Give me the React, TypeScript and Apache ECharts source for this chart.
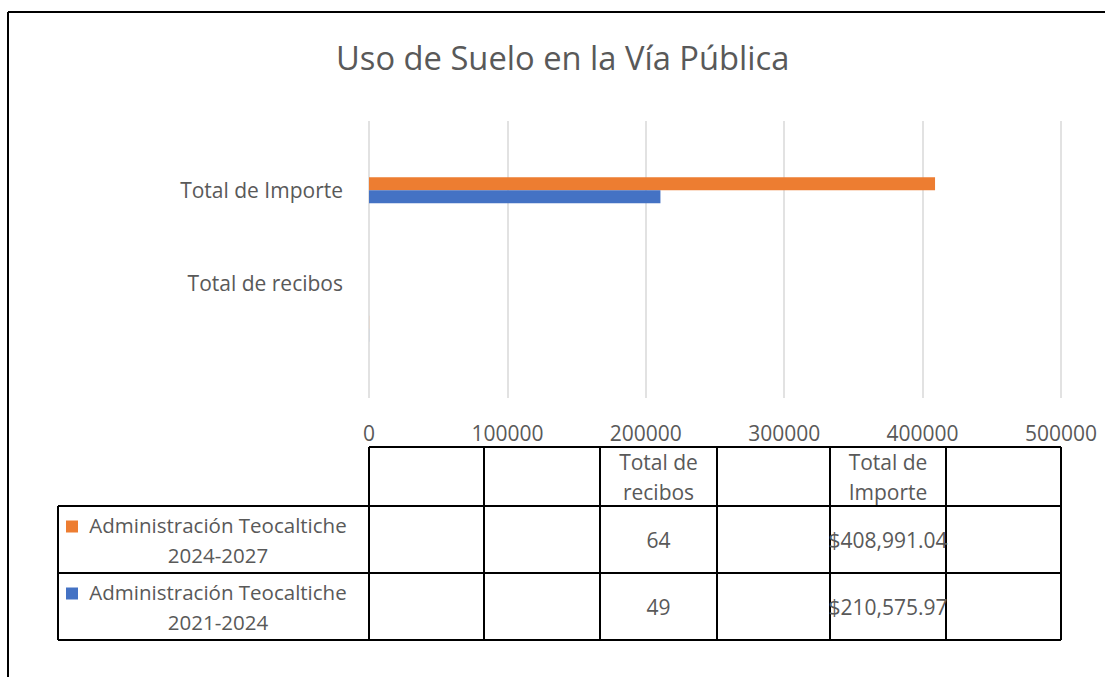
import React, { useEffect, useRef } from "react";
import * as echarts from "echarts";

const categories = ["Total de recibos", "Total de Importe"];
const seriesNames = ["Administración Teocaltiche\n2024-2027", "Administración Teocaltiche\n2021-2024"];
const seriesColors = ["#ED7D31", "#4472C4"];
const recibosValues = [64, 49];
const importeValues = [408991.04, 210575.97];
const xTickLabels = ["0", "100000", "200000", "300000", "400000", "500000"];
const tableHeaders = ["Total de\nrecibos", "Total de\nImporte"];

const FONT = "'Open Sans', 'Noto Sans', sans-serif";
const GRAY = "#595959";

function fmtMoney(v: number) {
  return "$" + v.toLocaleString("en-US", { minimumFractionDigits: 2, maximumFractionDigits: 2 });
}

export default function App() {
  const ref = useRef<HTMLDivElement>(null);
  useEffect(() => {
    if (!ref.current) return;
    const chart = echarts.init(ref.current, null, { renderer: "svg" });

    const colX = [369, 484, 600, 717, 830, 946, 1061];
    const rowY = [447, 506, 573, 640];
    const leftX = 58;
    const graphic: any[] = [];
    // outer border
    graphic.push({ type: "line", shape: { x1: 8, y1: 12, x2: 1110, y2: 12 }, style: { stroke: "#000", lineWidth: 2 } });
    graphic.push({ type: "line", shape: { x1: 8, y1: 12, x2: 8, y2: 680 }, style: { stroke: "#000", lineWidth: 2 } });
    // table lines
    graphic.push({ type: "line", shape: { x1: colX[0], y1: rowY[0], x2: colX[6], y2: rowY[0] }, style: { stroke: "#000", lineWidth: 2 } });
    for (let i = 1; i < rowY.length; i++) {
      graphic.push({ type: "line", shape: { x1: leftX, y1: rowY[i], x2: colX[6], y2: rowY[i] }, style: { stroke: "#000", lineWidth: 2 } });
    }
    colX.forEach((x) => {
      graphic.push({ type: "line", shape: { x1: x, y1: rowY[0], x2: x, y2: rowY[3] }, style: { stroke: "#000", lineWidth: 2 } });
    });
    graphic.push({ type: "line", shape: { x1: leftX, y1: rowY[1], x2: leftX, y2: rowY[3] }, style: { stroke: "#000", lineWidth: 2 } });

    const headerCols = [2, 4];
    tableHeaders.forEach((h, i) => {
      const c = headerCols[i];
      graphic.push({
        type: "text",
        x: (colX[c] + colX[c + 1]) / 2,
        y: (rowY[0] + rowY[1]) / 2,
        style: { text: h, fill: GRAY, font: `21px ${FONT}`, align: "center", verticalAlign: "middle", lineHeight: 30 },
      });
    });

    seriesNames.forEach((name, r) => {
      const yc = (rowY[r + 1] + rowY[r + 2]) / 2;
      graphic.push({ type: "rect", shape: { x: 66, y: yc - 19, width: 12, height: 12 }, style: { fill: seriesColors[r] } });
      graphic.push({
        type: "text",
        x: 218,
        y: yc,
        style: { text: name, fill: GRAY, font: `20.5px ${FONT}`, align: "center", verticalAlign: "middle", lineHeight: 30 },
      });
      graphic.push({
        type: "text",
        x: (colX[2] + colX[3]) / 2,
        y: yc,
        style: { text: String(recibosValues[r]), fill: GRAY, font: `21px ${FONT}`, align: "center", verticalAlign: "middle" },
      });
      graphic.push({
        type: "text",
        x: (colX[4] + colX[5]) / 2,
        y: yc,
        style: { text: fmtMoney(importeValues[r]), fill: GRAY, font: `21px ${FONT}`, align: "center", verticalAlign: "middle" },
      });
    });

    const option: any = {
      animation: false,
      backgroundColor: "#fff",
      title: {
        text: "Uso de Suelo en la Vía Pública",
        left: 331,
        top: 36,
        textStyle: { fontFamily: FONT, fontSize: 32.7, fontWeight: "normal", color: GRAY },
      },
      grid: { left: 369, right: 44, top: 121, bottom: 279, containLabel: false },
      xAxis: {
        type: "value",
        min: 0,
        max: 500000,
        interval: 100000,
        axisLine: { show: false },
        axisTick: { show: false },
        axisLabel: {
          margin: 24,
          fontFamily: FONT,
          fontSize: 21,
          color: GRAY,
          formatter: (v: number) => xTickLabels[Math.round(v / 100000)] ?? String(v),
        },
        splitLine: { show: true, lineStyle: { color: "#D9D9D9", width: 1.5 } },
      },
      yAxis: {
        type: "category",
        data: categories,
        axisLine: { show: false },
        axisTick: { show: false },
        axisLabel: {
          margin: 26,
          fontFamily: FONT,
          fontSize: 21,
          color: GRAY,
          formatter: (v: string, i: number) => (i === 0 ? `{up|${v}}` : `{n|${v}}`),
          rich: {
            up: { fontFamily: FONT, fontSize: 21, color: GRAY, padding: [0, 0, 92, 0] },
            n: { fontFamily: FONT, fontSize: 21, color: GRAY },
          },
        },
        splitLine: { show: false },
      },
      series: seriesNames.map((name, s) => ({
        type: "bar",
        name,
        data: [recibosValues[s], importeValues[s]],
        itemStyle: { color: seriesColors[s] },
        barWidth: 13,
        barGap: "0%",
      })),
      graphic,
    };
    chart.setOption(option);
    return () => chart.dispose();
  }, []);
  return <div ref={ref} style={{ position: "fixed", left: 0, top: 0, width: 1105, height: 677 }} />;
}
